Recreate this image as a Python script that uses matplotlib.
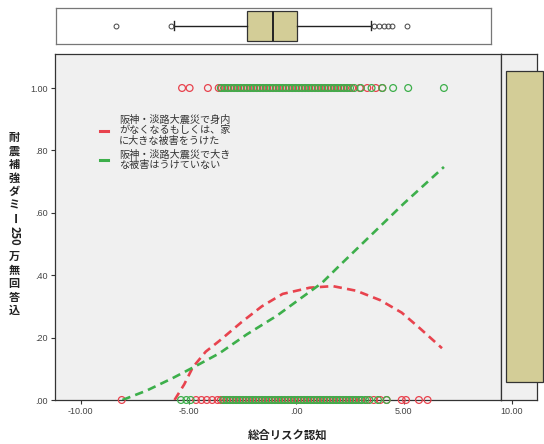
import matplotlib
matplotlib.use("Agg")
import matplotlib.pyplot as plt
from matplotlib.lines import Line2D
from matplotlib.patches import Rectangle

plt.rcParams['font.family'] = ['Noto Sans CJK JP', 'DejaVu Sans']

# data
red_fit_x = [-5.65, -5.2, -4.8, -4.2, -3.56, -2.53, -1.6, -0.63, 0.63, 1.7, 2.8, 3.9, 4.9, 5.74, 6.77]
red_fit_y = [0.0, 0.05, 0.105, 0.155, 0.19, 0.25, 0.30, 0.34, 0.36, 0.365, 0.35, 0.32, 0.28, 0.23, 0.166]
green_fit_x = [-8.07, -6.95, -5.74, -4.63, -3.56, -2.3, -0.9, 0.49, 1.19, 2.0, 3.5, 5.0, 6.86]
green_fit_y = [0.0, 0.03, 0.07, 0.11, 0.15, 0.21, 0.27, 0.34, 0.375, 0.43, 0.53, 0.63, 0.747]

red_at1 = [-5.3, -4.95, -4.1, -3.6, -3.45, -3.3, -3.15, -3.0, -2.85, -2.7, -2.55, -2.4, -2.25,
           -2.1, -1.95, -1.8, -1.65, -1.5, -1.35, -1.2, -1.05, -0.9, -0.75, -0.6, -0.45,
           -0.3, -0.15, 0.0, 0.15, 0.3, 0.45, 0.6, 0.75, 0.9, 1.05, 1.2, 1.35, 1.5, 1.65,
           1.8, 1.95, 2.1, 2.25, 2.4, 2.6, 2.95, 3.3, 3.7, 4.0]
green_at1 = [-3.5, -3.35, -3.2, -3.05, -2.9, -2.75, -2.6, -2.45, -2.3, -2.15, -2.0, -1.85,
             -1.7, -1.55, -1.4, -1.25, -1.1, -0.95, -0.8, -0.65, -0.5, -0.35, -0.2, -0.05,
             0.1, 0.25, 0.4, 0.55, 0.7, 0.85, 1.0, 1.15, 1.3, 1.45, 1.6, 1.75, 1.9, 2.05,
             2.2, 2.35, 2.5, 2.7, 3.0, 3.5, 4.0, 4.5, 5.2, 6.86]
red_at0 = [-8.1, -4.65, -4.4, -4.15, -3.9, -3.65, -3.5, -3.35, -3.2, -3.05, -2.9, -2.75,
           -2.6, -2.45, -2.3, -2.15, -2.0, -1.85, -1.7, -1.55, -1.4, -1.25, -1.1, -0.95,
           -0.8, -0.65, -0.5, -0.35, -0.2, -0.05, 0.1, 0.25, 0.4, 0.55, 0.7, 0.85, 1.0,
           1.15, 1.3, 1.45, 1.6, 1.75, 1.9, 2.05, 2.2, 2.35, 2.5, 2.65, 2.8, 3.0, 3.3,
           3.6, 3.9, 4.2, 4.9, 5.1, 5.7, 6.1]
green_at0 = [-5.35, -5.1, -4.9, -3.4, -3.25, -3.1, -2.95, -2.8, -2.65, -2.5, -2.35, -2.2,
             -2.05, -1.9, -1.75, -1.6, -1.45, -1.3, -1.15, -1.0, -0.85, -0.7, -0.55, -0.4,
             -0.25, -0.1, 0.05, 0.2, 0.35, 0.5, 0.65, 0.8, 0.95, 1.1, 1.25, 1.4, 1.55,
             1.7, 1.85, 2.0, 2.15, 2.3, 2.45, 2.6, 2.75, 2.9, 3.05, 3.2, 3.4, 3.8, 4.2]

# marginal boxplot of x
box_stats = dict(med=-1.09, q1=-2.3, q3=0.02, whislo=-5.7, whishi=3.47,
                 fliers=[-8.4, -5.85, 3.6, 3.85, 4.05, 4.25, 4.45, 5.14])

xticks = [-10, -5, 0, 5]
xticklabels = ['-10.00', '-5.00', '.00', '5.00']
yticks = [0, 0.2, 0.4, 0.6, 0.8, 1.0]
yticklabels = ['.00', '.20', '.40', '.60', '.80', '1.00']

red = '#E8434E'
green = '#3DAF4B'
boxcol = '#D3CD97'
tickcol = '#444444'

legend_labels = ['阪神・淡路大震災で身内\nがなくなるもしくは、家\nに大きな被害をうけた',
                 '阪神・淡路大震災で大き\nな被害はうけていない']

fig = plt.figure(figsize=(5.44, 4.44), dpi=100)
W, H = 544, 444

def px_axes(l, t, r, b):
    return fig.add_axes([l / W, 1 - b / H, (r - l) / W, (b - t) / H])

ax = px_axes(55, 54, 501, 400)
ax_top = px_axes(56, 8, 491, 44)
ax_right = px_axes(501, 54, 537, 400)

# main scatter panel
ax.set_facecolor('#F0F0F0')
ax.set_xlim(-11.2, 9.51)
ax.set_ylim(0, 1.109)
mk = dict(s=24, facecolors='none', linewidths=0.9, clip_on=False, zorder=3)
ax.scatter(red_at1, [1.0] * len(red_at1), edgecolors=red, **mk)
ax.scatter(green_at1, [1.0] * len(green_at1), edgecolors=green, **mk)
ax.scatter(red_at0, [0.0] * len(red_at0), edgecolors=red, **mk)
ax.scatter(green_at0, [0.0] * len(green_at0), edgecolors=green, **mk)
ax.plot(red_fit_x, red_fit_y, color=red, lw=1.9, dashes=(3.2, 2.0), zorder=4)
ax.plot(green_fit_x, green_fit_y, color=green, lw=1.9, dashes=(3.2, 2.0), zorder=4)

ax.set_xticks(xticks)
ax.set_xticklabels(xticklabels)
ax.set_yticks(yticks)
ax.set_yticklabels(yticklabels)
ax.tick_params(direction='out', length=3, width=0.8, colors='#333333', labelsize=6.5,
               labelcolor=tickcol, pad=2)
for lab in ax.get_xticklabels() + ax.get_yticklabels():
    lab.set_family(['Liberation Sans', 'DejaVu Sans'])
for s in ax.spines.values():
    s.set_color('#333333')
    s.set_linewidth(0.9)

handles = [Line2D([0], [0], color=red, lw=2.2), Line2D([0], [0], color=green, lw=2.2)]
leg = ax.legend(handles, legend_labels, loc='upper left', bbox_to_anchor=(0.10, 0.825),
                frameon=False, fontsize=7.3, handlelength=0.8, handletextpad=1.1,
                labelspacing=0.3, borderpad=0, borderaxespad=0)
for t in leg.get_texts():
    t.set_color('#333333')
    t.set_linespacing(1.1)

# top boxplot
ax_top.set_xlim(-11.19, 9.05)
ax_top.set_ylim(0, 1)
ax_top.bxp([box_stats], positions=[0.5], widths=0.83, vert=False, patch_artist=True,
           capwidths=0.25,
           boxprops=dict(facecolor=boxcol, edgecolor='#333333', linewidth=0.9),
           medianprops=dict(color='#222222', linewidth=1.4),
           whiskerprops=dict(color='#222222', linewidth=1.0),
           capprops=dict(color='#222222', linewidth=1.0),
           flierprops=dict(marker='o', markersize=3.5, markerfacecolor='none',
                           markeredgecolor='#444444', markeredgewidth=0.7))
ax_top.set_xticks([])
ax_top.set_yticks([])
for s in ax_top.spines.values():
    s.set_color('#777777')
    s.set_linewidth(0.9)

# right boxplot
ax_right.set_facecolor('#F0F0F0')
ax_right.set_xlim(9.51, 11.19)
ax_right.set_ylim(-0.058, 1.055)
box_y0, box_y1 = 0.0, 1.0
ax_right.add_patch(Rectangle((0.14, (box_y0 + 0.058) / 1.113), 1.03, (box_y1 - box_y0) / 1.113,
                             transform=ax_right.transAxes,
                             facecolor=boxcol, edgecolor='#333333', linewidth=0.9,
                             clip_on=False, zorder=3))
ax_right.set_xticks([10])
ax_right.set_xticklabels(['10.00'])
ax_right.set_yticks([])
ax_right.tick_params(direction='out', length=3, width=0.8, colors='#333333', labelsize=6.5,
                     labelcolor=tickcol, pad=2)
for lab in ax_right.get_xticklabels():
    lab.set_family(['Liberation Sans', 'DejaVu Sans'])
for s in ax_right.spines.values():
    s.set_color('#333333')
    s.set_linewidth(0.9)

# axis titles
fig.text(288 / W, 1 - 435 / H, '総合リスク認知', ha='center', va='center',
         fontsize=8.2, fontweight='bold', color='#222222')

ylabel_parts = [('耐', 0), ('震', 0), ('補', 0), ('強', 0), ('ダ', 0), ('ミ', 0),
                ('ー', -90), ('250', -90), ('万', 0), ('無', 0), ('回', 0), ('答', 0), ('込', 0)]
y = 138
for txt, rot in ylabel_parts:
    step = 13.4 if len(txt) == 1 else 21
    if len(txt) > 1:
        y += 4
    fig.text(14 / W, 1 - y / H, txt, ha='center', va='center', rotation=rot,
             fontsize=8, fontweight='bold', color='#222222')
    y += step

fig.savefig('out.png', dpi=100)
